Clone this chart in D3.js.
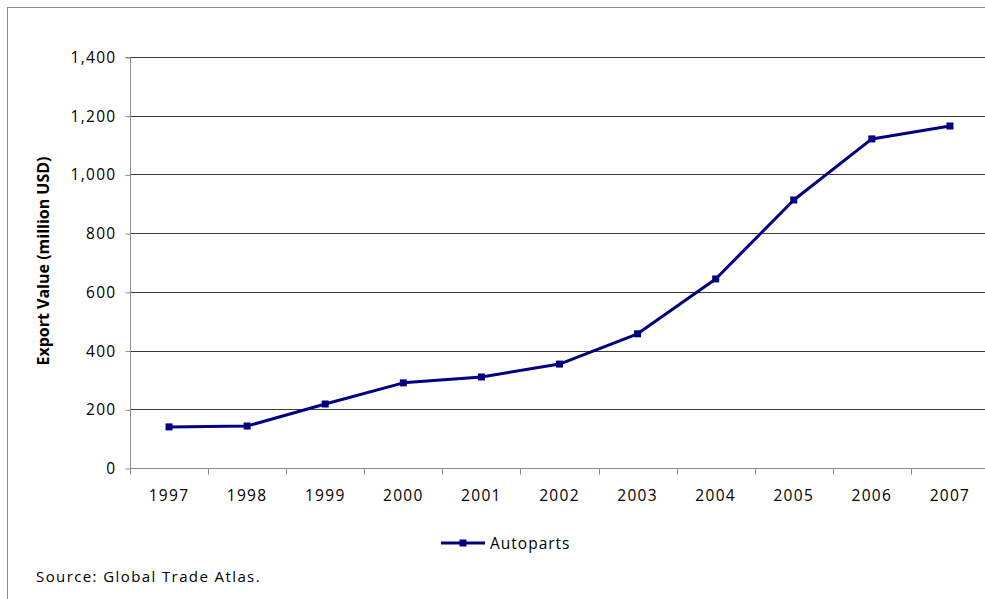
<!DOCTYPE html>
<html>
<head>
<meta charset="utf-8">
<script src="https://cdn.jsdelivr.net/npm/d3@7"></script>
<style>
	body { margin: 0; background: #fff; }
	svg { display: block; font-family: "Open Sans", sans-serif; }
</style>
</head>
<body>
<svg id="chart" width="985" height="599"></svg>
<script>

// chart data
var years = ["1997", "1998", "1999", "2000", "2001", "2002", "2003", "2004", "2005", "2006", "2007"];
var autoparts = [140, 143, 218, 290, 310, 354, 457, 644, 913, 1121, 1165];
var yTicks = [0, 200, 400, 600, 800, 1000, 1200, 1400];
var seriesName = "Autoparts";
var yTitle = "Export Value (million USD)";
var source = "Source: Global Trade Atlas.";

var svg = d3.select("#chart");
var plot = { left: 130, right: 989, top: 57, bottom: 468 };
var navy = "#000080";
var ink = "#000";

// outer frame
svg.append("rect")
	.attr("x", 7.5).attr("y", 7.5)
	.attr("width", 990).attr("height", 600)
	.attr("fill", "none").attr("stroke", "#8c8c8c");

var x = d3.scaleBand().domain(years).range([plot.left, plot.right]);
var y = d3.scaleLinear().domain([0, 1400]).range([plot.bottom, plot.top]);

// gridlines
svg.append("g").selectAll("line")
	.data(yTicks.filter(function(d) { return d > 0; }))
	.enter().append("line")
	.attr("x1", plot.left).attr("x2", plot.right)
	.attr("y1", function(d) { return Math.round(y(d)) + 0.5; })
	.attr("y2", function(d) { return Math.round(y(d)) + 0.5; })
	.attr("stroke", "#3a3a3a");

// y axis
var yAxis = svg.append("g")
	.attr("transform", "translate(" + (plot.left + 0.5) + ",0.5)")
	.call(d3.axisLeft(y).tickValues(yTicks).tickSize(5).tickPadding(9).tickFormat(d3.format(",")));
yAxis.select(".domain").attr("stroke", "#8c8c8c").attr("d", "M-5," + Math.round(plot.top) + "H0V" + plot.bottom);
yAxis.selectAll(".tick line").attr("stroke", "#8c8c8c");
yAxis.selectAll("text")
	.attr("font-size", "15.5px").attr("letter-spacing", "1.3px")
	.attr("fill", ink).attr("font-family", "Open Sans");

// x axis, ticks on the band edges
var xAxis = svg.append("g").attr("transform", "translate(0," + (plot.bottom + 0.5) + ")");
xAxis.append("line")
	.attr("x1", plot.left).attr("x2", plot.right)
	.attr("stroke", "#8c8c8c");
xAxis.selectAll("line.tk")
	.data(years.concat(["end"]))
	.enter().append("line").attr("class", "tk")
	.attr("x1", function(d, i) { return Math.round(plot.left + i * x.step()) + 0.5; })
	.attr("x2", function(d, i) { return Math.round(plot.left + i * x.step()) + 0.5; })
	.attr("y1", 0).attr("y2", 6)
	.attr("stroke", "#8c8c8c");
xAxis.selectAll("text")
	.data(years)
	.enter().append("text")
	.attr("x", function(d) { return x(d) + x.bandwidth() / 2; })
	.attr("y", 32)
	.attr("text-anchor", "middle")
	.attr("font-size", "15.5px").attr("letter-spacing", "1.3px")
	.attr("fill", ink)
	.text(function(d) { return d; });

// y title
svg.append("text")
	.attr("transform", "translate(49,261) rotate(-90)")
	.attr("text-anchor", "middle")
	.attr("font-size", "16px").attr("font-weight", "bold")
	.attr("fill", ink)
	.text(yTitle);

// series
var line = d3.line()
	.x(function(d, i) { return x(years[i]) + x.bandwidth() / 2; })
	.y(function(d) { return y(d); });

svg.append("path")
	.datum(autoparts)
	.attr("d", line)
	.attr("fill", "none")
	.attr("stroke", navy)
	.attr("stroke-width", 3)
	.attr("stroke-linejoin", "round");

svg.append("g").selectAll("rect")
	.data(autoparts)
	.enter().append("rect")
	.attr("x", function(d, i) { return x(years[i]) + x.bandwidth() / 2 - 3.5; })
	.attr("y", function(d) { return y(d) - 3.5; })
	.attr("width", 7).attr("height", 7)
	.attr("fill", navy);

// legend
var legend = svg.append("g").attr("transform", "translate(441,543)");
legend.append("line").attr("x1", 0).attr("x2", 44).attr("stroke", navy).attr("stroke-width", 3);
legend.append("rect").attr("x", 18.5).attr("y", -3.5).attr("width", 7).attr("height", 7).attr("fill", navy);
legend.append("text")
	.attr("x", 49).attr("y", 6)
	.attr("font-size", "15.5px").attr("letter-spacing", "1px")
	.attr("fill", ink)
	.text(seriesName);

// source note
svg.append("text")
	.attr("x", 36).attr("y", 582)
	.attr("font-size", "15px").attr("letter-spacing", "1.4px")
	.attr("fill", ink)
	.text(source);

</script>
</body>
</html>
